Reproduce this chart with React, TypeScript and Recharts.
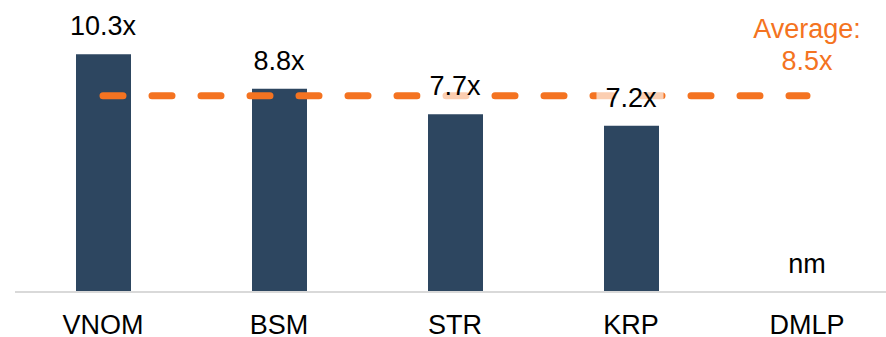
import React from 'react';
import { ComposedChart, Bar, Line, XAxis, YAxis, LabelList } from 'recharts';

const categories = ['VNOM', 'BSM', 'STR', 'KRP', 'DMLP'];
const multiples: (number | null)[] = [10.3, 8.8, 7.7, 7.2, null];
const averageMultiple = 8.5;
const averageLabel = ['Average:', '8.5x'];
const notMeaningful = 'nm';

const data = categories.map((name, i) => ({
  name,
  value: multiples[i],
  labelPos: multiples[i] ?? 0,
  avg: averageMultiple,
}));

const BAR_COLOR = '#2D4660';
const ORANGE = '#F47321';
const FONT = '"Liberation Sans", Arial, sans-serif';
const FS = 27;

const charW: Record<string, number> = { '.': 0.278, x: 0.5, n: 0.556, m: 0.833 };
const textWidth = (s: string) =>
  s.split('').reduce((acc, c) => acc + (charW[c] ?? 0.556), 0) * FS;

const ValueLabel = (props: any) => {
  const { x, y, index } = props;
  const v = multiples[index];
  const text = v == null ? notMeaningful : `${v.toFixed(1)}x`;
  const w = textWidth(text);
  const by = y - 19;
  return (
    <g>
      <rect x={x - w / 2 - 9} y={by - 24} width={w + 16} height={32} fill="#FFFFFF" fillOpacity={0.65} />
      <text x={x} y={by} textAnchor="middle" fontFamily={FONT} fontSize={FS} fill="#000000">
        {text}
      </text>
    </g>
  );
};

const AvgLabel = (props: any) => {
  const { x, y, index } = props;
  if (index !== categories.length - 1) return null;
  return (
    <g>
      <text x={x} y={y - 58} textAnchor="middle" fontFamily={FONT} fontSize={FS} fill={ORANGE}>
        {averageLabel[0]}
      </text>
      <text x={x} y={y - 26} textAnchor="middle" fontFamily={FONT} fontSize={FS} fill={ORANGE}>
        {averageLabel[1]}
      </text>
    </g>
  );
};

export default function App() {
  return (
    <div style={{ position: 'absolute', left: 0, top: 0, width: 886, height: 337, overflow: 'hidden', background: '#fff' }}>
      <ComposedChart
        width={895}
        height={337}
        data={data}
        margin={{ top: 15, right: 0, bottom: 0, left: 15 }}
        barCategoryGap={0}
      >
        <XAxis
          dataKey="name"
          height={45}
          tickLine={false}
          tickSize={0}
          tickMargin={23}
          axisLine={{ stroke: '#D9D9D9', strokeWidth: 2 }}
          tick={{ fontSize: FS, fontFamily: FONT, fill: '#000000' }}
          interval={0}
        />
        <YAxis hide domain={[0, 12]} />
        <Bar dataKey="value" fill={BAR_COLOR} barSize={55} isAnimationActive={false} />
        <Line
          dataKey="avg"
          stroke={ORANGE}
          strokeWidth={7}
          strokeDasharray="20 29"
          strokeLinecap="round"
          dot={false}
          activeDot={false}
          isAnimationActive={false}
        >
          <LabelList dataKey="avg" content={AvgLabel} />
        </Line>
        <Line
          dataKey="labelPos"
          stroke="none"
          dot={false}
          activeDot={false}
          isAnimationActive={false}
        >
          <LabelList dataKey="labelPos" content={ValueLabel} />
        </Line>
      </ComposedChart>
    </div>
  );
}
